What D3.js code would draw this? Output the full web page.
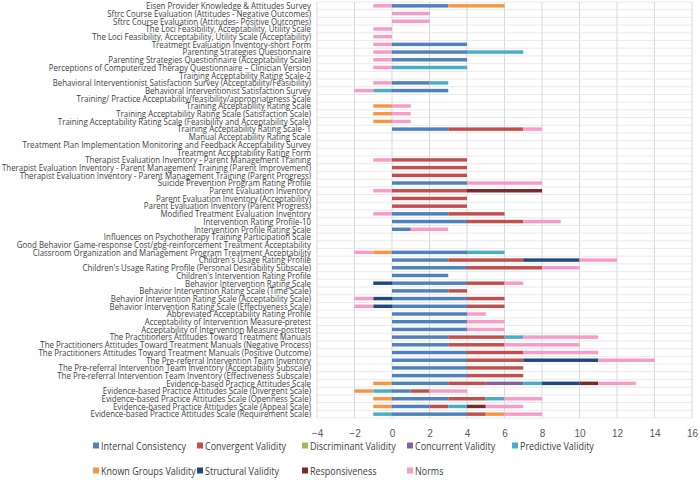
<!DOCTYPE html>
<html><head><meta charset="utf-8">
<script src="https://cdn.jsdelivr.net/npm/d3@7"></script>
<style>body{margin:0;background:#fff;}svg{display:block;font-family:"Open Sans","Noto Sans",sans-serif;}</style>
</head><body><svg id="c" width="700" height="480"></svg>
<script>
const categories = [
"Eisen Provider Knowledge & Attitudes Survey",
"Sftrc Course Evaluation (Attitudes - Negative Outcomes)",
"Sftrc Course Evaluation (Attitudes- Positive Outcomes)",
"The Loci Feasibility, Acceptability, Utility Scale",
"The Loci Feasibility, Acceptability, Utility Scale (Acceptability)",
"Treatment Evaluation Inventory-short Form",
"Parenting Strategies Questionnaire",
"Parenting Strategies Questionnaire (Acceptability Scale)",
"Perceptions of Computerized Therapy Questionnaire – Clinician Version",
"Training Acceptability Rating Scale-2",
"Behavioral Interventionist Satisfaction Survey (Acceptability/Feasibility)",
"Behavioral Interventionist Satisfaction Survey",
"Training/ Practice Acceptability/feasibility/appropriateness Scale",
"Training Acceptability Rating Scale",
"Training Acceptability Rating Scale (Satisfaction Scale)",
"Training Acceptability Rating Scale (Feasibility and Acceptability Scale)",
"Training Acceptability Rating Scale- 1",
"Manual Acceptability Rating Scale",
"Treatment Plan Implementation Monitoring and Feedback Acceptability Survey",
"Treatment Acceptability Rating Form",
"Therapist Evaluation Inventory - Parent Management Training",
"Therapist Evaluation Inventory - Parent Management Training (Parent Improvement)",
"Therapist Evaluation Inventory - Parent Management Training (Parent Progress)",
"Suicide Prevention Program Rating Profile",
"Parent Evaluation Inventory",
"Parent Evaluation Inventory (Acceptability)",
"Parent Evaluation Inventory (Parent Progress)",
"Modified Treatment Evaluation Inventory",
"Intervention Rating Profile-10",
"Intervention Profile Rating Scale",
"Influences on Psychotherapy Training Participation Scale",
"Good Behavior Game-response Cost/gbg-reinforcement Treatment Acceptability",
"Classroom Organization and Management Program Treatment Acceptability",
"Children's Usage Rating Profile",
"Children's Usage Rating Profile (Personal Desirability Subscale)",
"Children's Intervention Rating Profile",
"Behavior Intervention Rating Scale",
"Behavior Intervention Rating Scale (Time Scale)",
"Behavior Intervention Rating Scale (Acceptability Scale)",
"Behavior Intervention Rating Scale (Effectiveness Scale)",
"Abbreviated Acceptability Rating Profile",
"Acceptability of Intervention Measure-pretest",
"Acceptability of Intervention Measure-posttest",
"The Practitioners Attitudes Toward Treatment Manuals",
"The Practitioners Attitudes Toward Treatment Manuals (Negative Process)",
"The Practitioners Attitudes Toward Treatment Manuals (Positive Outcome)",
"The Pre-referral Intervention Team Inventory",
"The Pre-referral Intervention Team Inventory (Acceptability Subscale)",
"The Pre-referral Intervention Team Inventory (Effectiveness Subscale)",
"Evidence-based Practice Attitudes Scale",
"Evidence-based Practice Attitudes Scale (Divergent Scale)",
"Evidence-based Practice Attitudes Scale (Openness Scale)",
"Evidence-based Practice Attitudes Scale (Appeal Scale)",
"Evidence-based Practice Attitudes Scale (Requirement Scale)"
];
const seriesNames = ["Internal Consistency","Convergent Validity","Discriminant Validity","Concurrent Validity","Predictive Validity","Known Groups Validity","Structural Validity","Responsiveness","Norms"];
const internalConsistency = [3,0,0,0,0,4,4,4,0,0, 2,3,0,0,0,0,3,0,0,0, 0,0,0,4,0,0,0,3,4,1, 0,0,4,3,4,3,4,3,4,4, 4,4,4,3,3,4,4,4,4,3, 1,3,2,4];
const convergentValidity  = [0,0,0,0,0,0,0,0,0,0, 0,0,0,0,0,0,4,0,0,0, 4,4,4,0,4,4,4,3,3,0, 0,0,0,4,4,0,2,1,2,2, 0,0,0,3,3,3,3,3,3,2, 1,2,1,1];
const discriminantValidity= [0,0,0,0,0,0,0,0,0,0, 0,0,0,0,0,0,0,0,0,0, 0,0,0,0,0,0,0,0,0,0, 0,0,0,0,0,0,0,0,0,0, 0,0,0,0,0,0,0,0,0,0, 0,0,0,0];
const concurrentValidity  = [0,0,0,0,0,0,0,0,0,0, 0,0,0,0,0,0,0,0,0,0, 0,0,0,0,0,0,0,0,0,0, 0,0,0,0,0,0,0,0,0,0, 0,0,0,0,0,0,0,0,0,2, 0,0,0,0];
const predictiveValidity  = [0,0,0,0,0,0,3,0,4,0, 1,-1,0,0,0,0,0,0,0,0, 0,0,0,0,0,0,0,0,0,0, 0,0,2,0,0,0,0,0,0,0, 0,0,0,1,0,0,0,0,0,1, -1,1,1,-1];
const knownGroupsValidity = [3,0,0,0,0,0,0,0,0,0, 0,0,0,-1,-1,-1,0,0,0,0, 0,0,0,0,0,0,0,0,0,0, 0,0,-1,0,0,0,0,0,0,0, 0,0,0,0,0,0,0,0,0,-1, -1,-1,-1,1];
const structuralValidity  = [0,0,0,0,0,0,0,0,0,0, 0,0,0,0,0,0,0,0,0,0, 0,0,0,0,0,0,0,0,0,0, 0,0,0,3,0,0,-1,0,-1,-1, 0,0,0,0,0,0,4,0,0,2, 0,0,0,0];
const responsiveness      = [0,0,0,0,0,0,0,0,0,0, 0,0,0,0,0,0,0,0,0,0, 0,0,0,0,4,0,0,0,0,0, 0,0,0,0,0,0,0,0,0,0, 0,0,0,0,0,0,0,0,0,1, 0,0,1,0];
const norms               = [-1,2,2,-1,-1,-1,-1,-1,-1,0, -1,-1,0,1,1,1,1,0,0,0, -1,0,0,4,-1,0,0,-1,2,2, 0,0,-1,2,2,0,1,0,-1,-1, 1,2,2,4,4,4,3,0,0,2, 2,2,2,2];
const xTicks = [-4,-2,0,2,4,6,8,10,12,14,16];
const colors = ["#4F81BD","#C0504D","#9BBB59","#8064A2","#4BACC6","#F79646","#1F497D","#772C2A","#F79BC7"];

const seriesValues = [internalConsistency,convergentValidity,discriminantValidity,concurrentValidity,predictiveValidity,knownGroupsValidity,structuralValidity,responsiveness,norms];
const rows = categories.map((c,i)=>{const o={cat:c}; seriesNames.forEach((s,j)=>o[s]=seriesValues[j][i]); return o;});

const svg = d3.select("#c");
const x = d3.scaleLinear().domain([-4,16]).range([317,692]);
const y = d3.scaleBand().domain(categories).range([2,418]).paddingInner(0.55).paddingOuter(0.275);
const step = y.step();

const grid = svg.append("g");
grid.selectAll("line.v").data(xTicks).join("line")
  .attr("x1",d=>x(d)).attr("x2",d=>x(d)).attr("y1",2).attr("y2",418)
  .attr("stroke","#d9d9d9").attr("stroke-width",1);
grid.selectAll("line.h").data(d3.range(categories.length+1)).join("line")
  .attr("x1",x(-4)).attr("x2",x(16))
  .attr("y1",d=>2+d*step).attr("y2",d=>2+d*step)
  .attr("stroke","#e3e3e3").attr("stroke-width",0.8);

const stack = d3.stack().keys(seriesNames).offset(d3.stackOffsetDiverging);
const layers = stack(rows);
svg.append("g").selectAll("g").data(layers).join("g")
  .attr("fill",(d,i)=>colors[i])
  .selectAll("rect").data(d=>d.filter(p=>p[1]!==p[0])).join("rect")
  .attr("x",p=>x(Math.min(p[0],p[1])))
  .attr("width",p=>Math.abs(x(p[1])-x(p[0])))
  .attr("y",p=>y(p.data.cat))
  .attr("height",y.bandwidth());

// category labels, condensed to mimic the narrow original face
const labels = svg.append("g").selectAll("text").data(categories).join("text")
  .attr("x",311).attr("y",d=>y(d)+y.bandwidth()/2)
  .attr("dy","0.35em").attr("text-anchor","end")
  .attr("font-size",9.5).attr("fill","#404040").text(d=>d);
let maxW = 0; labels.each(function(){maxW=Math.max(maxW,this.getComputedTextLength());});
const k1 = 309/maxW;
labels.each(function(){const w=this.getComputedTextLength(); d3.select(this).attr("textLength",w*k1).attr("lengthAdjust","spacingAndGlyphs");});

const xAxis = d3.axisBottom(x).tickValues(xTicks).tickSize(0).tickPadding(0);
const ax = svg.append("g").attr("transform","translate(0,430)").call(xAxis);
ax.select(".domain").remove();
ax.selectAll("text").attr("font-size",10).attr("fill","#595959").attr("font-family","inherit");

const legX = [96,200,305,410,515];
const legend = svg.append("g");
const legTexts = [];
seriesNames.forEach((s,i)=>{
  const col = i<5 ? i : i-5;
  const row = i<5 ? 0 : 1;
  const lx = legX[col], ly = row===0 ? 446 : 471;
  legend.append("rect").attr("x",lx-3).attr("y",ly-3.5).attr("width",6).attr("height",6).attr("fill",colors[i]);
  legTexts.push(legend.append("text").attr("x",lx+5).attr("y",ly).attr("dy","0.35em")
    .attr("font-size",10.5).attr("fill","#404040").text(s));
});
const refW = legTexts[0].node().getComputedTextLength();
const k2 = 85/refW;
legTexts.forEach(t=>{const w=t.node().getComputedTextLength(); t.attr("textLength",w*k2).attr("lengthAdjust","spacingAndGlyphs");});
</script></body></html>
